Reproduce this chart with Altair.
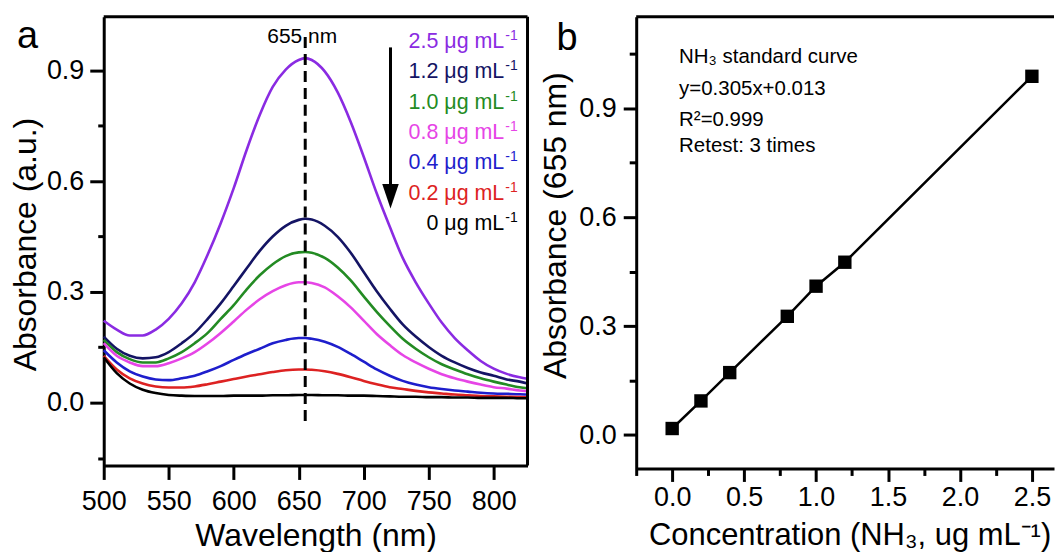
import altair as alt
import pandas as pd

# ---------------- data ----------------
wavelength = [500, 510, 520, 530, 540, 550, 560, 570, 580, 590, 600, 610, 620, 630,
              640, 650, 655, 660, 670, 680, 690, 700, 710, 720, 730, 740, 750, 760,
              770, 780, 790, 800, 810, 820, 826]

abs_2_5 = [0.222, 0.198, 0.182, 0.182, 0.198, 0.227, 0.269, 0.326, 0.401, 0.486, 0.581, 0.685,
           0.779, 0.855, 0.902, 0.928, 0.933, 0.928, 0.897, 0.840, 0.760, 0.666, 0.567, 0.477,
           0.392, 0.326, 0.269, 0.217, 0.175, 0.142, 0.113, 0.092, 0.078, 0.069, 0.065]
abs_1_2 = [0.179, 0.146, 0.127, 0.120, 0.123, 0.137, 0.161, 0.189, 0.227, 0.269, 0.316, 0.364,
           0.411, 0.450, 0.479, 0.495, 0.498, 0.496, 0.479, 0.449, 0.406, 0.354, 0.302, 0.255,
           0.212, 0.179, 0.151, 0.127, 0.109, 0.094, 0.082, 0.073, 0.063, 0.057, 0.052]
abs_1_0 = [0.170, 0.137, 0.118, 0.109, 0.109, 0.120, 0.137, 0.161, 0.189, 0.227, 0.264, 0.307,
           0.345, 0.375, 0.397, 0.407, 0.408, 0.406, 0.392, 0.366, 0.331, 0.288, 0.246, 0.208,
           0.173, 0.146, 0.123, 0.104, 0.090, 0.077, 0.066, 0.057, 0.049, 0.042, 0.039]
abs_0_8 = [0.161, 0.127, 0.109, 0.099, 0.099, 0.107, 0.120, 0.137, 0.161, 0.189, 0.220, 0.252,
           0.280, 0.302, 0.318, 0.326, 0.326, 0.324, 0.312, 0.288, 0.258, 0.222, 0.186, 0.156,
           0.129, 0.109, 0.092, 0.077, 0.066, 0.057, 0.049, 0.042, 0.038, 0.033, 0.031]
abs_0_4 = [0.142, 0.109, 0.085, 0.071, 0.063, 0.061, 0.066, 0.073, 0.085, 0.099, 0.116, 0.132,
           0.146, 0.161, 0.170, 0.175, 0.175, 0.173, 0.165, 0.151, 0.132, 0.111, 0.090, 0.073,
           0.059, 0.049, 0.042, 0.037, 0.033, 0.030, 0.027, 0.025, 0.024, 0.023, 0.022]
abs_0_2 = [0.127, 0.090, 0.066, 0.052, 0.044, 0.041, 0.041, 0.044, 0.050, 0.057, 0.064, 0.071,
           0.077, 0.083, 0.088, 0.090, 0.090, 0.089, 0.085, 0.078, 0.069, 0.059, 0.050, 0.042,
           0.037, 0.032, 0.028, 0.025, 0.022, 0.020, 0.018, 0.017, 0.016, 0.015, 0.014]
abs_0 = [0.123, 0.080, 0.052, 0.035, 0.026, 0.021, 0.019, 0.018, 0.018, 0.018, 0.019, 0.019,
         0.019, 0.020, 0.020, 0.021, 0.021, 0.021, 0.020, 0.020, 0.019, 0.019, 0.018, 0.017,
         0.016, 0.016, 0.015, 0.015, 0.014, 0.014, 0.013, 0.013, 0.013, 0.012, 0.012]

conc_labels = ["2.5", "1.2", "1.0", "0.8", "0.4", "0.2", "0"]
series = [abs_2_5, abs_1_2, abs_1_0, abs_0_8, abs_0_4, abs_0_2, abs_0]
line_colors = ["#8a2be2", "#141464", "#238b23", "#e645e6", "#1e1ecc", "#dd2222", "#000000"]

peak_nm = 655

std_conc = [0.0, 0.2, 0.4, 0.8, 1.0, 1.2, 2.5]
std_abs = [0.018, 0.094, 0.172, 0.327, 0.410, 0.476, 0.988]

x_ticks_a = [500, 550, 600, 650, 700, 750, 800]
y_ticks = [0.0, 0.3, 0.6, 0.9]
y_minor_a = [-0.15, 0.15, 0.45, 0.75]
y_minor_b = [0.15, 0.45, 0.75, 1.05]
x_ticks_b = [0.0, 0.5, 1.0, 1.5, 2.0, 2.5]
x_minor_b = [-0.25, 0.25, 0.75, 1.25, 1.75, 2.25]

notes_b = ["NH₃ standard curve", "y=0.305x+0.013", "R²=0.999", "Retest: 3 times"]

# ---------------- tables ----------------
rows = []
for lab, vals in zip(conc_labels, series):
    for wl, a in zip(wavelength, vals):
        rows.append({"wl": wl, "A": a, "conc": lab})
spec_df = pd.DataFrame(rows)
std_df = pd.DataFrame({"c": std_conc, "a": std_abs})
one = pd.DataFrame({"k": [0]})

FONT = "Liberation Sans"
W_A, H_A = 425, 450
W_B, H_B = 419, 453
PX_PER_UNIT_B = 144.3

xa_scale = alt.Scale(domain=[500, 826], nice=False, zero=False)
ya_scale = alt.Scale(domain=[-0.17, 1.045], nice=False, zero=False)
xb_scale = alt.Scale(domain=[-0.25, -0.25 + W_B / PX_PER_UNIT_B], nice=False, zero=False)
yb_scale = alt.Scale(domain=[-0.092, 1.152], nice=False, zero=False)

common = dict(grid=False, tickColor="black", tickWidth=3, labelFont=FONT, labelFontSize=27,
              labelColor="black", titleFont=FONT, titleFontWeight="normal",
              titleColor="black", labelOverlap=False, labelFlush=False,
              domain=True, domainColor="black", domainWidth=3)

def minor_axis(values, orient, size=6):
    return alt.Axis(values=values, orient=orient, tickSize=size, tickWidth=3, tickColor="black",
                    labels=False, domain=False, grid=False, title=None)

def frame_rule(x, x2, y, y2=None):
    enc = dict(x=alt.value(x), y=alt.value(y))
    if x2 is not None:
        enc["x2"] = alt.value(x2)
    if y2 is not None:
        enc["y2"] = alt.value(y2)
    return alt.Chart(one).mark_rule(strokeWidth=3, color="black").encode(**enc)

# ---------------- panel a ----------------
x_axis_a = alt.Axis(values=x_ticks_a, orient="bottom", tickSize=14, labelPadding=30,
                    labelBaseline="alphabetic", title="Wavelength (nm)", titleFontSize=32,
                    titleBaseline="alphabetic", titleX=W_A / 2, titleY=80, **common)
y_axis_a = alt.Axis(values=y_ticks, orient="left", format=".1f", tickSize=14, labelPadding=6,
                    title="Absorbance (a.u.)", titleFontSize=32, titleBaseline="middle",
                    titleX=-78, titleY=228, titleAngle=270, **common)

lines = alt.Chart(spec_df).mark_line(strokeWidth=2.6, interpolate="monotone").encode(
    x=alt.X("wl:Q", scale=xa_scale, axis=x_axis_a),
    y=alt.Y("A:Q", scale=ya_scale, axis=y_axis_a),
    color=alt.Color("conc:N", scale=alt.Scale(domain=conc_labels, range=line_colors), legend=None),
)

minor_a = alt.Chart(spec_df).mark_point(opacity=0).encode(
    x=alt.X("wl:Q", scale=xa_scale, axis=None),
    y=alt.Y("A:Q", scale=ya_scale, axis=minor_axis(y_minor_a, "left")),
)

peak_rule = alt.Chart(one).mark_rule(strokeDash=[11, 6], strokeWidth=3, color="black").encode(
    x=alt.XDatum(peak_nm, scale=xa_scale, axis=None),
    y=alt.YDatum(0.99, scale=ya_scale, axis=None),
    y2=alt.Y2Datum(-0.05),
)

peak_label = alt.Chart(one).mark_text(text=f"{peak_nm} nm", font=FONT, fontSize=21, align="center",
                                      baseline="alphabetic", dx=-3, color="black").encode(
    x=alt.XDatum(peak_nm, scale=xa_scale, axis=None),
    y=alt.value(26),
)

arrow_line = alt.Chart(one).mark_rule(strokeWidth=3, color="black").encode(
    x=alt.XDatum(720.6, scale=xa_scale, axis=None),
    y=alt.YDatum(0.962, scale=ya_scale, axis=None),
    y2=alt.Y2Datum(0.58),
)
arrow_head = alt.Chart(one).mark_point(shape="M -0.67 -1 L 0.67 -1 L 0 1 Z", size=610,
                                       filled=True, opacity=1, color="black").encode(
    x=alt.XDatum(720.6, scale=xa_scale, axis=None),
    y=alt.YDatum(0.559, scale=ya_scale, axis=None),
)

legend_layers = []
for i, (lab, col) in enumerate(zip(conc_labels, line_colors)):
    yb = 31.4 + 30.4 * i
    legend_layers.append(alt.Chart(one).mark_text(
        text=f"{lab} μg mL", font=FONT, fontSize=21.5, align="right", baseline="alphabetic",
        color=col).encode(x=alt.value(401.7), y=alt.value(yb)))
    legend_layers.append(alt.Chart(one).mark_text(
        text="-1", font=FONT, fontSize=14, align="left", baseline="alphabetic",
        color=col).encode(x=alt.value(402.7), y=alt.value(yb - 8)))

letter_a = alt.Chart(one).mark_text(text="a", font=FONT, fontSize=38, align="left",
                                    baseline="alphabetic", color="black").encode(
    x=alt.value(-87), y=alt.value(31))

frame_a = [frame_rule(0, W_A, 0), frame_rule(W_A, None, 0, H_A)]

panel_a = alt.layer(lines, minor_a, peak_rule, peak_label, arrow_line, arrow_head,
                    *legend_layers, letter_a, *frame_a).resolve_axis(
    x="independent", y="independent").properties(width=W_A, height=H_A)

# ---------------- panel b ----------------
x_axis_b = alt.Axis(values=x_ticks_b, orient="bottom", format=".1f", tickSize=13, labelPadding=24,
                    labelBaseline="alphabetic",
                    title="Concentration (NH₃, ug mL⁻¹)", titleFontSize=31,
                    titleBaseline="alphabetic", titleX=214, titleY=76, **common)
y_axis_b = alt.Axis(values=y_ticks, orient="left", format=".1f", tickSize=13, labelPadding=7,
                    title="Absorbance (655 nm)", titleFontSize=32, titleBaseline="middle",
                    titleX=-81, titleY=209, titleAngle=270, **common)

std_line = alt.Chart(std_df).mark_line(strokeWidth=2.5, color="black").encode(
    x=alt.X("c:Q", scale=xb_scale, axis=x_axis_b),
    y=alt.Y("a:Q", scale=yb_scale, axis=y_axis_b),
)
std_pts = alt.Chart(std_df).mark_square(size=180, color="black", opacity=1).encode(
    x=alt.X("c:Q", scale=xb_scale, axis=None),
    y=alt.Y("a:Q", scale=yb_scale, axis=None),
)
minor_b = alt.Chart(std_df).mark_point(opacity=0).encode(
    x=alt.X("c:Q", scale=xb_scale, axis=minor_axis(x_minor_b, "bottom", 7)),
    y=alt.Y("a:Q", scale=yb_scale, axis=minor_axis(y_minor_b, "left", 7)),
)
top_border = frame_rule(0, W_B, 0)

note_layers = []
for j, (txt, yb) in enumerate(zip(notes_b, [46.2, 78.9, 109.5, 135.5])):
    note_layers.append(alt.Chart(one).mark_text(
        text=txt, font=FONT, fontSize=20.5, align="left", baseline="alphabetic",
        color="black").encode(x=alt.value(43), y=alt.value(yb)))

letter_b = alt.Chart(one).mark_text(text="b", font=FONT, fontSize=38, align="left",
                                    baseline="alphabetic", color="black").encode(
    x=alt.value(-80), y=alt.value(33))

panel_b = alt.layer(std_line, std_pts, minor_b, top_border, *note_layers, letter_b).resolve_axis(
    x="independent", y="independent").properties(width=W_B, height=H_B)

chart = alt.hconcat(panel_a, panel_b, spacing=109, bounds="flush").properties(
    padding={"left": 2, "top": 6, "right": 0, "bottom": 0}
).configure(font=FONT).configure_view(stroke=None)

chart.save("out.html", embed_options={"renderer": "svg", "actions": False})
